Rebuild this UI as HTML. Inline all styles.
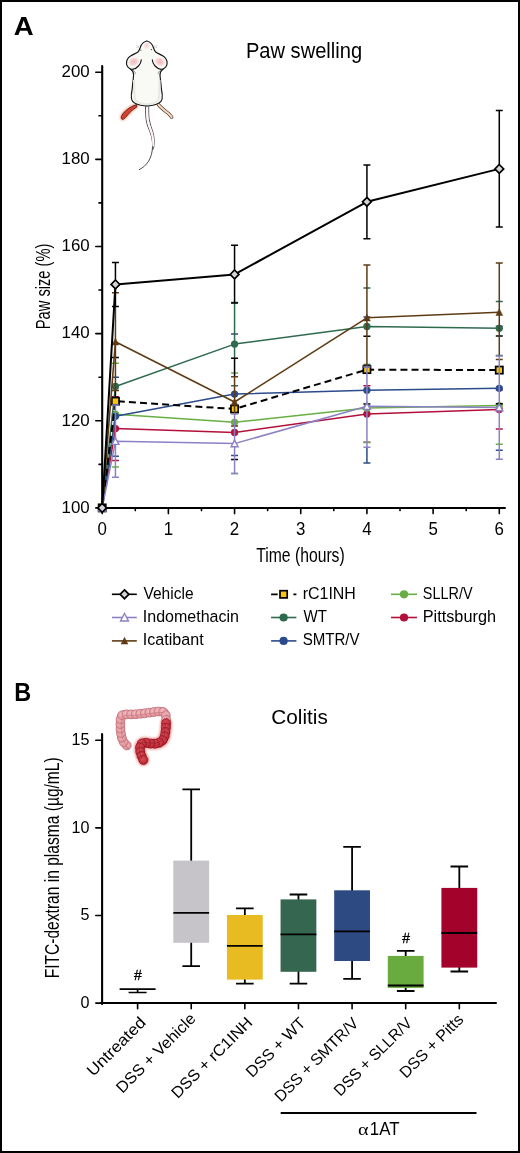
<!DOCTYPE html>
<html><head><meta charset="utf-8"><style>html,body{margin:0;padding:0;background:#fff;}body{width:520px;height:1153px;overflow:hidden;}</style></head>
<body>
<svg width="520" height="1153" viewBox="0 0 520 1153" style="display:block;will-change:transform">
<rect x="0" y="0" width="520" height="1153" fill="#fff"/>
<text transform="translate(13.77,35.00) scale(1.0772,1)" font-family='"Liberation Sans", sans-serif' font-size="25.60" font-weight="bold">A</text>
<text transform="translate(14.26,701.10) scale(0.9229,1)" font-family='"Liberation Sans", sans-serif' font-size="25.40" font-weight="bold">B</text>
<text transform="translate(245.89,57.80) scale(0.9493,1)" font-family='"Liberation Sans", sans-serif' font-size="21.20" font-weight="normal">Paw swelling</text>
<g stroke="#000" fill="none">
<path d="M102.2,66 V508.9" stroke-width="2.1" stroke-linecap="round"/>
<path d="M101.2,507.9 H505" stroke-width="2" stroke-linecap="round"/>
<path d="M95.8,507.90 H102" stroke-width="1.6" stroke-linecap="round"/>
<path d="M99.0,464.33 H102" stroke-width="1.6" stroke-linecap="round"/>
<path d="M95.8,420.76 H102" stroke-width="1.6" stroke-linecap="round"/>
<path d="M99.0,377.19 H102" stroke-width="1.6" stroke-linecap="round"/>
<path d="M95.8,333.62 H102" stroke-width="1.6" stroke-linecap="round"/>
<path d="M99.0,290.05 H102" stroke-width="1.6" stroke-linecap="round"/>
<path d="M95.8,246.48 H102" stroke-width="1.6" stroke-linecap="round"/>
<path d="M99.0,202.91 H102" stroke-width="1.6" stroke-linecap="round"/>
<path d="M95.8,159.34 H102" stroke-width="1.6" stroke-linecap="round"/>
<path d="M99.0,115.77 H102" stroke-width="1.6" stroke-linecap="round"/>
<path d="M95.8,72.20 H102" stroke-width="1.6" stroke-linecap="round"/>
<path d="M102.20,508 V513.6" stroke-width="1.6" stroke-linecap="round"/>
<path d="M135.29,508 V510.6" stroke-width="1.6" stroke-linecap="round"/>
<path d="M168.38,508 V513.6" stroke-width="1.6" stroke-linecap="round"/>
<path d="M201.47,508 V510.6" stroke-width="1.6" stroke-linecap="round"/>
<path d="M234.56,508 V513.6" stroke-width="1.6" stroke-linecap="round"/>
<path d="M267.65,508 V510.6" stroke-width="1.6" stroke-linecap="round"/>
<path d="M300.74,508 V513.6" stroke-width="1.6" stroke-linecap="round"/>
<path d="M333.83,508 V510.6" stroke-width="1.6" stroke-linecap="round"/>
<path d="M366.92,508 V513.6" stroke-width="1.6" stroke-linecap="round"/>
<path d="M400.01,508 V510.6" stroke-width="1.6" stroke-linecap="round"/>
<path d="M433.10,508 V513.6" stroke-width="1.6" stroke-linecap="round"/>
<path d="M466.19,508 V510.6" stroke-width="1.6" stroke-linecap="round"/>
<path d="M499.28,508 V513.6" stroke-width="1.6" stroke-linecap="round"/>
</g>
<text transform="translate(89.75,512.75)" text-anchor="end" font-family='"Liberation Sans", sans-serif' font-size="16.9">100</text>
<text transform="translate(89.75,425.61)" text-anchor="end" font-family='"Liberation Sans", sans-serif' font-size="16.9">120</text>
<text transform="translate(89.75,338.47)" text-anchor="end" font-family='"Liberation Sans", sans-serif' font-size="16.9">140</text>
<text transform="translate(89.75,251.33)" text-anchor="end" font-family='"Liberation Sans", sans-serif' font-size="16.9">160</text>
<text transform="translate(89.75,164.19)" text-anchor="end" font-family='"Liberation Sans", sans-serif' font-size="16.9">180</text>
<text transform="translate(89.75,77.05)" text-anchor="end" font-family='"Liberation Sans", sans-serif' font-size="16.9">200</text>
<text transform="translate(102.20,534.5) scale(0.964,1)" text-anchor="middle" font-family='"Liberation Sans", sans-serif' font-size="17.5">0</text>
<text transform="translate(168.38,534.5) scale(0.964,1)" text-anchor="middle" font-family='"Liberation Sans", sans-serif' font-size="17.5">1</text>
<text transform="translate(234.56,534.5) scale(0.964,1)" text-anchor="middle" font-family='"Liberation Sans", sans-serif' font-size="17.5">2</text>
<text transform="translate(300.74,534.5) scale(0.964,1)" text-anchor="middle" font-family='"Liberation Sans", sans-serif' font-size="17.5">3</text>
<text transform="translate(366.92,534.5) scale(0.964,1)" text-anchor="middle" font-family='"Liberation Sans", sans-serif' font-size="17.5">4</text>
<text transform="translate(433.10,534.5) scale(0.964,1)" text-anchor="middle" font-family='"Liberation Sans", sans-serif' font-size="17.5">5</text>
<text transform="translate(499.28,534.5) scale(0.964,1)" text-anchor="middle" font-family='"Liberation Sans", sans-serif' font-size="17.5">6</text>
<text transform="translate(256.19,561.75) scale(0.7490,1)" font-family='"Liberation Sans", sans-serif' font-size="21.00" font-weight="normal">Time (hours)</text>
<text transform="translate(49.90,329.17) rotate(-90) scale(0.7194,1)" font-family='"Liberation Sans", sans-serif' font-size="20.40">Paw size (%)</text>
<g><path d="M111.94,396.80 H118.94 M111.94,460.50 H118.94" stroke="#b1113a" stroke-width="1.5" fill="none"/><path d="M363.42,385.70 H370.42 M363.42,442.30 H370.42" stroke="#b1113a" stroke-width="1.5" fill="none"/><path d="M495.78,390.00 H502.78 M495.78,429.00 H502.78" stroke="#b1113a" stroke-width="1.5" fill="none"/><polyline points="102.20,507.90 115.44,428.60 234.56,432.40 366.92,413.90 499.28,409.50" stroke="#b1113a" stroke-width="1.5" fill="none" stroke-linejoin="round"/><circle cx="102.20" cy="507.90" r="3.65" fill="#b1113a"/><circle cx="115.44" cy="428.60" r="3.65" fill="#b1113a"/><circle cx="234.56" cy="432.40" r="3.65" fill="#b1113a"/><circle cx="366.92" cy="413.90" r="3.65" fill="#b1113a"/><circle cx="499.28" cy="409.50" r="3.65" fill="#b1113a"/></g>
<g><path d="M111.94,363.20 H118.94 M111.94,467.10 H118.94" stroke="#69ae43" stroke-width="1.5" fill="none"/><path d="M231.06,373.10 H238.06 M231.06,473.50 H238.06" stroke="#69ae43" stroke-width="1.5" fill="none"/><path d="M363.42,372.00 H370.42 M363.42,442.60 H370.42" stroke="#69ae43" stroke-width="1.5" fill="none"/><path d="M495.78,367.70 H502.78 M495.78,444.30 H502.78" stroke="#69ae43" stroke-width="1.5" fill="none"/><polyline points="102.20,507.90 115.44,414.20 234.56,422.30 366.92,408.00 499.28,405.60" stroke="#69ae43" stroke-width="1.5" fill="none" stroke-linejoin="round"/><circle cx="102.20" cy="507.90" r="3.65" fill="#69ae43"/><circle cx="115.44" cy="414.20" r="3.65" fill="#69ae43"/><circle cx="234.56" cy="422.30" r="3.65" fill="#69ae43"/><circle cx="366.92" cy="408.00" r="3.65" fill="#69ae43"/><circle cx="499.28" cy="405.60" r="3.65" fill="#69ae43"/></g>
<g><path d="M111.94,377.30 H118.94 M111.94,456.30 H118.94" stroke="#2b4b8a" stroke-width="1.5" fill="none"/><path d="M231.06,334.00 H238.06 M231.06,455.50 H238.06" stroke="#2b4b8a" stroke-width="1.5" fill="none"/><path d="M366.92,446.90 V463.00 M363.42,317.00 H370.42 M363.42,463.00 H370.42" stroke="#2b4b8a" stroke-width="1.5" fill="none"/><path d="M495.78,326.30 H502.78 M495.78,450.30 H502.78" stroke="#2b4b8a" stroke-width="1.5" fill="none"/><polyline points="102.20,507.90 115.44,416.30 234.56,394.10 366.92,390.20 499.28,388.30" stroke="#2b4b8a" stroke-width="1.5" fill="none" stroke-linejoin="round"/><circle cx="102.20" cy="507.90" r="3.65" fill="#2b4b8a"/><circle cx="115.44" cy="416.30" r="3.65" fill="#2b4b8a"/><circle cx="234.56" cy="394.10" r="3.65" fill="#2b4b8a"/><circle cx="366.92" cy="390.20" r="3.65" fill="#2b4b8a"/><circle cx="499.28" cy="388.30" r="3.65" fill="#2b4b8a"/></g>
<g><path d="M234.56,302.70 V358.60 M231.06,302.40 H238.06 M231.06,385.80 H238.06" stroke="#2f6a4f" stroke-width="1.5" fill="none"/><path d="M363.42,288.10 H370.42 M363.42,364.60 H370.42" stroke="#2f6a4f" stroke-width="1.5" fill="none"/><path d="M495.78,301.40 H502.78 M495.78,355.50 H502.78" stroke="#2f6a4f" stroke-width="1.5" fill="none"/><polyline points="102.20,507.90 115.44,386.50 234.56,344.10 366.92,326.50 499.28,328.30" stroke="#2f6a4f" stroke-width="1.5" fill="none" stroke-linejoin="round"/><circle cx="102.20" cy="507.90" r="3.65" fill="#2f6a4f"/><circle cx="115.44" cy="386.50" r="3.65" fill="#2f6a4f"/><circle cx="234.56" cy="344.10" r="3.65" fill="#2f6a4f"/><circle cx="366.92" cy="326.50" r="3.65" fill="#2f6a4f"/><circle cx="499.28" cy="328.30" r="3.65" fill="#2f6a4f"/></g>
<g><path d="M115.44,390.10 V405.30 M111.94,357.40 H118.94 M111.94,443.60 H118.94" stroke="#000000" stroke-width="1.5" fill="none"/><path d="M234.56,358.30 V377.10 M231.06,358.30 H238.06 M231.06,459.50 H238.06" stroke="#000000" stroke-width="1.5" fill="none"/><path d="M366.92,366.70 V367.30 M363.42,336.30 H370.42 M363.42,404.00 H370.42" stroke="#000000" stroke-width="1.5" fill="none"/><path d="M495.78,336.00 H502.78 M495.78,403.80 H502.78" stroke="#000000" stroke-width="1.5" fill="none"/><polyline points="102.20,507.90 115.44,401.20 234.56,409.00 366.92,369.60 499.28,370.10" stroke="#000000" stroke-width="2.0" fill="none" stroke-linejoin="round" stroke-dasharray="7,4.1" stroke-dashoffset="1.08"/><rect x="98.60" y="504.30" width="7.20" height="7.20" fill="#f8c612" stroke="#000" stroke-width="1.7"/><rect x="111.84" y="397.60" width="7.20" height="7.20" fill="#f8c612" stroke="#000" stroke-width="1.7"/><rect x="230.96" y="405.40" width="7.20" height="7.20" fill="#f8c612" stroke="#000" stroke-width="1.7"/><rect x="363.32" y="366.00" width="7.20" height="7.20" fill="#f8c612" stroke="#000" stroke-width="1.7"/><rect x="495.68" y="366.50" width="7.20" height="7.20" fill="#f8c612" stroke="#000" stroke-width="1.7"/></g>
<g><path d="M115.44,306.30 V390.40 M111.94,292.80 H118.94 M111.94,390.40 H118.94" stroke="#5e3b14" stroke-width="1.5" fill="none"/><path d="M234.56,376.80 V414.30 M231.06,376.80 H238.06 M231.06,425.90 H238.06" stroke="#5e3b14" stroke-width="1.5" fill="none"/><path d="M366.92,265.10 V367.00 M363.42,265.10 H370.42 M363.42,367.00 H370.42" stroke="#5e3b14" stroke-width="1.5" fill="none"/><path d="M499.28,263.00 V356.30 M495.78,263.00 H502.78 M495.78,359.40 H502.78" stroke="#5e3b14" stroke-width="1.5" fill="none"/><polyline points="102.20,507.90 115.44,341.80 234.56,402.00 366.92,317.80 499.28,312.30" stroke="#5e3b14" stroke-width="1.6" fill="none" stroke-linejoin="round"/><path d="M102.20,504.30 L105.60,511.10 L98.80,511.10Z" fill="#5e3b14" stroke="#5e3b14" stroke-width="0.5" stroke-linejoin="round"/><path d="M115.44,338.20 L118.84,345.00 L112.04,345.00Z" fill="#5e3b14" stroke="#5e3b14" stroke-width="0.5" stroke-linejoin="round"/><path d="M234.56,398.40 L237.96,405.20 L231.16,405.20Z" fill="#5e3b14" stroke="#5e3b14" stroke-width="0.5" stroke-linejoin="round"/><path d="M366.92,314.20 L370.32,321.00 L363.52,321.00Z" fill="#5e3b14" stroke="#5e3b14" stroke-width="0.5" stroke-linejoin="round"/><path d="M499.28,308.70 L502.68,315.50 L495.88,315.50Z" fill="#5e3b14" stroke="#5e3b14" stroke-width="0.5" stroke-linejoin="round"/></g>
<g><path d="M115.44,405.00 V477.20 M111.94,405.00 H118.94 M111.94,477.20 H118.94" stroke="#8a82c4" stroke-width="1.5" fill="none"/><path d="M234.56,414.00 V473.50 M231.06,414.00 H238.06 M231.06,473.50 H238.06" stroke="#8a82c4" stroke-width="1.5" fill="none"/><path d="M366.92,367.00 V447.20 M363.42,367.00 H370.42 M363.42,447.20 H370.42" stroke="#8a82c4" stroke-width="1.5" fill="none"/><path d="M499.28,356.00 V459.20 M495.78,356.00 H502.78 M495.78,459.20 H502.78" stroke="#8a82c4" stroke-width="1.5" fill="none"/><polyline points="102.20,507.90 115.44,441.30 234.56,443.60 366.92,406.30 499.28,407.60" stroke="#8a82c4" stroke-width="1.5" fill="none" stroke-linejoin="round"/><path d="M102.20,504.40 L105.70,511.00 L98.70,511.00Z" fill="#ffffff" stroke="#8a82c4" stroke-width="1.4" stroke-linejoin="miter"/><path d="M115.44,437.80 L118.94,444.40 L111.94,444.40Z" fill="#ffffff" stroke="#8a82c4" stroke-width="1.4" stroke-linejoin="miter"/><path d="M234.56,440.10 L238.06,446.70 L231.06,446.70Z" fill="#ffffff" stroke="#8a82c4" stroke-width="1.4" stroke-linejoin="miter"/><path d="M366.92,402.80 L370.42,409.40 L363.42,409.40Z" fill="#ffffff" stroke="#8a82c4" stroke-width="1.4" stroke-linejoin="miter"/><path d="M499.28,404.10 L502.78,410.70 L495.78,410.70Z" fill="#ffffff" stroke="#8a82c4" stroke-width="1.4" stroke-linejoin="miter"/></g>
<g><path d="M115.44,262.40 V306.60 M111.94,262.40 H118.94 M111.94,306.60 H118.94" stroke="#000000" stroke-width="1.5" fill="none"/><path d="M234.56,245.30 V303.00 M231.06,245.30 H238.06 M231.06,303.00 H238.06" stroke="#000000" stroke-width="1.5" fill="none"/><path d="M366.92,165.00 V238.70 M363.42,165.00 H370.42 M363.42,238.70 H370.42" stroke="#000000" stroke-width="1.5" fill="none"/><path d="M499.28,110.40 V227.00 M495.78,110.40 H502.78 M495.78,227.00 H502.78" stroke="#000000" stroke-width="1.5" fill="none"/><polyline points="102.20,507.90 115.44,284.40 234.56,274.40 366.92,201.80 499.28,168.90" stroke="#000000" stroke-width="2.0" fill="none" stroke-linejoin="round"/><path d="M102.20,503.50 L106.60,507.90 L102.20,512.30 L97.80,507.90Z" fill="#d5d4da" stroke="#000" stroke-width="1.7" stroke-linejoin="miter"/><path d="M115.44,280.00 L119.84,284.40 L115.44,288.80 L111.04,284.40Z" fill="#d5d4da" stroke="#000" stroke-width="1.7" stroke-linejoin="miter"/><path d="M234.56,270.00 L238.96,274.40 L234.56,278.80 L230.16,274.40Z" fill="#d5d4da" stroke="#000" stroke-width="1.7" stroke-linejoin="miter"/><path d="M366.92,197.40 L371.32,201.80 L366.92,206.20 L362.52,201.80Z" fill="#d5d4da" stroke="#000" stroke-width="1.7" stroke-linejoin="miter"/><path d="M499.28,164.50 L503.68,168.90 L499.28,173.30 L494.88,168.90Z" fill="#d5d4da" stroke="#000" stroke-width="1.7" stroke-linejoin="miter"/></g>
<path d="M111.9,594.3 H136.8" stroke="#000" stroke-width="1.6"/>
<path d="M124.50,589.90 L128.90,594.30 L124.50,598.70 L120.10,594.30Z" fill="#d5d4da" stroke="#000" stroke-width="1.7" stroke-linejoin="miter"/>
<text transform="translate(143.44,598.60) scale(0.9969,1)" font-family='"Liberation Sans", sans-serif' font-size="15.60" font-weight="normal">Vehicle</text>
<path d="M111.9,617.5 H136.8" stroke="#8a82c4" stroke-width="1.6"/>
<path d="M124.50,613.54 L128.46,621.00 L120.55,621.00Z" fill="#fff" stroke="#8a82c4" stroke-width="1.4" stroke-linejoin="miter"/>
<text transform="translate(142.76,622.00) scale(1.0289,1)" font-family='"Liberation Sans", sans-serif' font-size="15.60" font-weight="normal">Indomethacin</text>
<path d="M111.9,640.9 H136.8" stroke="#5e3b14" stroke-width="1.6"/>
<path d="M124.50,637.30 L127.90,644.10 L121.10,644.10Z" fill="#5e3b14" stroke="#5e3b14" stroke-width="0.5" stroke-linejoin="round"/>
<text transform="translate(142.75,645.10) scale(1.0330,1)" font-family='"Liberation Sans", sans-serif' font-size="15.60" font-weight="normal">Icatibant</text>
<path d="M271.1,594.3 H277.7 M293.4,594.3 H296.4" stroke="#000" stroke-width="1.7"/>
<rect x="280.00" y="590.70" width="7.20" height="7.20" fill="#f8c612" stroke="#000" stroke-width="1.7"/>
<text transform="translate(302.68,598.60) scale(1.0240,1)" font-family='"Liberation Sans", sans-serif' font-size="15.60" font-weight="normal">rC1INH</text>
<path d="M271.1,617.5 H296.4" stroke="#2f6a4f" stroke-width="1.6"/>
<circle cx="283.60" cy="617.50" r="4.12" fill="#2f6a4f"/>
<text transform="translate(303.40,622.00) scale(0.9678,1)" font-family='"Liberation Sans", sans-serif' font-size="15.60" font-weight="normal">WT</text>
<path d="M271.1,640.9 H296.4" stroke="#2b4b8a" stroke-width="1.6"/>
<circle cx="283.60" cy="640.90" r="4.12" fill="#2b4b8a"/>
<text transform="translate(302.65,645.10) scale(0.9667,1)" font-family='"Liberation Sans", sans-serif' font-size="15.60" font-weight="normal">SMTR/V</text>
<path d="M391,594.3 H417" stroke="#69ae43" stroke-width="1.6"/>
<circle cx="404.00" cy="594.30" r="4.12" fill="#69ae43"/>
<text transform="translate(422.78,598.60) scale(0.9266,1)" font-family='"Liberation Sans", sans-serif' font-size="15.60" font-weight="normal">SLLR/V</text>
<path d="M391,617.5 H417" stroke="#b1113a" stroke-width="1.6"/>
<circle cx="404.00" cy="617.50" r="4.12" fill="#b1113a"/>
<text transform="translate(422.70,622.00) scale(1.0439,1)" font-family='"Liberation Sans", sans-serif' font-size="15.60" font-weight="normal">Pittsburgh</text>
<text transform="translate(271.36,724.20) scale(0.9885,1)" font-family='"Liberation Sans", sans-serif' font-size="21.00" font-weight="normal">Colitis</text>
<g stroke="#000" fill="none">
<path d="M102.1,734 V1004.1" stroke-width="2.1" stroke-linecap="round"/>
<path d="M101.1,1003.1 H496" stroke-width="2" stroke-linecap="round"/>
<path d="M95.8,1003.10 H102" stroke-width="1.6" stroke-linecap="round"/>
<path d="M95.8,915.47 H102" stroke-width="1.6" stroke-linecap="round"/>
<path d="M95.8,827.83 H102" stroke-width="1.6" stroke-linecap="round"/>
<path d="M95.8,740.19 H102" stroke-width="1.6" stroke-linecap="round"/>
<path d="M137.60,1003.5 V1008.8" stroke-width="1.6" stroke-linecap="round"/>
<path d="M191.22,1003.5 V1008.8" stroke-width="1.6" stroke-linecap="round"/>
<path d="M244.84,1003.5 V1008.8" stroke-width="1.6" stroke-linecap="round"/>
<path d="M298.46,1003.5 V1008.8" stroke-width="1.6" stroke-linecap="round"/>
<path d="M352.08,1003.5 V1008.8" stroke-width="1.6" stroke-linecap="round"/>
<path d="M405.70,1003.5 V1008.8" stroke-width="1.6" stroke-linecap="round"/>
<path d="M459.32,1003.5 V1008.8" stroke-width="1.6" stroke-linecap="round"/>
</g>
<text transform="translate(89.45,1008.00) scale(0.95,1)" text-anchor="end" font-family='"Liberation Sans", sans-serif' font-size="17">0</text>
<text transform="translate(89.45,920.37) scale(0.95,1)" text-anchor="end" font-family='"Liberation Sans", sans-serif' font-size="17">5</text>
<text transform="translate(89.45,832.73) scale(0.95,1)" text-anchor="end" font-family='"Liberation Sans", sans-serif' font-size="17">10</text>
<text transform="translate(89.45,745.09) scale(0.95,1)" text-anchor="end" font-family='"Liberation Sans", sans-serif' font-size="17">15</text>
<text transform="translate(59.10,978.35) rotate(-90) scale(0.7641,1)" font-family='"Liberation Sans", sans-serif' font-size="20.40">FITC-dextran in plasma (µg/mL)</text>
<path d="M191.22,789.3 V966.1 M182.42,789.3 H200.02 M182.42,966.1 H200.02" stroke="#000" stroke-width="1.8" fill="none"/><rect x="173.32" y="860.6" width="35.8" height="82.2" fill="#c6c4c9"/><path d="M173.32,912.9 H209.12" stroke="#000" stroke-width="1.8"/><path d="M244.84,908.4 V983.7 M236.04,908.4 H253.64 M236.04,983.7 H253.64" stroke="#000" stroke-width="1.8" fill="none"/><rect x="226.94" y="915.0" width="35.8" height="64.6" fill="#e8bb22"/><path d="M226.94,945.9 H262.74" stroke="#000" stroke-width="1.8"/><path d="M298.46,894.5 V983.6 M289.66,894.5 H307.26 M289.66,983.6 H307.26" stroke="#000" stroke-width="1.8" fill="none"/><rect x="280.56" y="899.4" width="35.8" height="72.4" fill="#356650"/><path d="M280.56,934.4 H316.36" stroke="#000" stroke-width="1.8"/><path d="M352.08,846.9 V978.8 M343.28,846.9 H360.88 M343.28,978.8 H360.88" stroke="#000" stroke-width="1.8" fill="none"/><rect x="334.18" y="890.3" width="35.8" height="70.7" fill="#2d4a82"/><path d="M334.18,931.3 H369.98" stroke="#000" stroke-width="1.8"/><path d="M405.70,950.9 V991.0 M396.90,950.9 H414.50 M396.90,991.0 H414.50" stroke="#000" stroke-width="1.8" fill="none"/><rect x="387.80" y="955.9" width="35.8" height="32.0" fill="#6aab40"/><path d="M387.80,985.5 H423.60" stroke="#000" stroke-width="1.8"/><path d="M459.32,866.5 V971.5 M450.52,866.5 H468.12 M450.52,971.5 H468.12" stroke="#000" stroke-width="1.8" fill="none"/><rect x="441.42" y="887.9" width="35.8" height="79.7" fill="#a3022b"/><path d="M441.42,933.0 H477.22" stroke="#000" stroke-width="1.8"/>
<path d="M119.60,989.1 H155.60 M128.60,992.5 H146.60 M137.60,989.1 V992.5" stroke="#000" stroke-width="1.7" fill="none"/>
<text transform="translate(134.10,979.70) scale(0.9091,1)" font-family='"Liberation Sans", sans-serif' font-size="15.40" font-weight="normal" stroke="#000" stroke-width="0.35">#</text>
<text transform="translate(402.20,942.80) scale(0.9091,1)" font-family='"Liberation Sans", sans-serif' font-size="15.40" font-weight="normal" stroke="#000" stroke-width="0.35">#</text>
<text transform="translate(93.28,1076.98) rotate(-45) scale(1.0779,1)" font-family='"Liberation Sans", sans-serif' font-size="16.0">Untreated</text>
<text transform="translate(122.46,1093.91) rotate(-45) scale(1.0228,1)" font-family='"Liberation Sans", sans-serif' font-size="16.0">DSS + Vehicle</text>
<text transform="translate(177.76,1099.14) rotate(-45) scale(1.0243,1)" font-family='"Liberation Sans", sans-serif' font-size="16.0">DSS + rC1INH</text>
<text transform="translate(252.30,1078.34) rotate(-45) scale(1.0108,1)" font-family='"Liberation Sans", sans-serif' font-size="16.0">DSS + WT</text>
<text transform="translate(280.88,1102.65) rotate(-45) scale(0.9960,1)" font-family='"Liberation Sans", sans-serif' font-size="16.0">DSS + SMTR/V</text>
<text transform="translate(340.23,1096.90) rotate(-45) scale(0.9699,1)" font-family='"Liberation Sans", sans-serif' font-size="16.0">DSS + SLLR/V</text>
<text transform="translate(405.89,1079.04) rotate(-45) scale(1.0072,1)" font-family='"Liberation Sans", sans-serif' font-size="16.0">DSS + Pitts</text>
<path d="M280.7,1113 H476.5" stroke="#000" stroke-width="1.8"/>
<text transform="translate(357.89,1134.6) scale(1.14,1)" font-family="Liberation Serif, serif" font-size="17.7">α</text>
<text transform="translate(369.85,1134.60) scale(0.9530,1)" font-family='"Liberation Sans", sans-serif' font-size="17.70" font-weight="normal">1AT</text>
<g id="mouse">
<defs>
<radialGradient id="earP" cx="0.5" cy="0.5" r="0.5"><stop offset="0" stop-color="#f0b9b6"/><stop offset="0.6" stop-color="#f5d3d0"/><stop offset="1" stop-color="#fdf3f2"/></radialGradient>
<radialGradient id="noseP" cx="0.5" cy="0.45" r="0.55"><stop offset="0" stop-color="#f5cfcd"/><stop offset="1" stop-color="#fff8f8"/></radialGradient>
<filter id="glow" x="-50%" y="-50%" width="200%" height="200%"><feGaussianBlur stdDeviation="1.0"/></filter>

</defs>
<!-- tail -->
<path d="M145.6,106.6 C145.5,112 145.6,117 146.4,121 C147.2,125 148.8,129 150.4,133 C151.8,137 152.6,141 152.6,146 C152.4,152 151.2,157 148.4,161.5 C146,165 143,167.8 139.4,169.6" fill="none" stroke="#3a3a3a" stroke-width="0.9" stroke-linecap="round"/>
<path d="M148.7,106.6 C148.6,111 148.6,116 149.3,120 C150.1,124.5 151.6,128 153,132.5 C154,136.5 154.6,141 154.2,145 C153.9,147 153.4,148.5 152.8,149.5" fill="none" stroke="#3a3a3a" stroke-width="0.9" stroke-linecap="round"/>
<path d="M147.2,107 C147.1,112 147.2,117 147.9,120.8 C148.7,125 150.2,128.8 151.7,132.8 C152.9,136.8 153.6,141 153.4,145.5" fill="none" stroke="#fdf5f5" stroke-width="2.1" stroke-linecap="round"/>
<!-- red swollen leg -->
<path d="M136.4,104.6 C131.5,106.2 126.2,109.6 123,113.6 C121.3,115.8 120.6,118.2 121.9,119.2 C123.2,119.9 125,118.2 126.8,116 C129.5,112.6 132.8,109.4 136.8,107 Z" fill="#f2a088" stroke="#f2a088" stroke-width="2.6" filter="url(#glow)" opacity="0.85"/>
<path d="M136.4,104.6 C131.5,106.2 126.2,109.6 123,113.6 C121.3,115.8 120.6,118.2 121.9,119.2 C123.2,119.9 125,118.2 126.8,116 C129.5,112.6 132.8,109.4 136.8,107 Z" fill="#d8412f" stroke="#3d1610" stroke-width="0.75" stroke-linejoin="round"/>
<!-- right leg -->
<path d="M158.2,104.4 C161.5,108.5 166,111.5 169.2,114.2 C170.5,115.4 171.3,116.4 171.7,117.3" fill="none" stroke="#3e3630" stroke-width="3.4" stroke-linecap="round"/>
<path d="M158.2,104.4 C161.5,108.5 166,111.5 169.2,114.2 C170.5,115.4 171.3,116.4 171.7,117.3" fill="none" stroke="#fad7b6" stroke-width="2.1" stroke-linecap="round"/>
<!-- body halves -->
<g>
<path d="M146.8,41.0 C144.8,41.4 142.2,43.2 140.9,45.8 C140.0,48  139.4,50.3 138,52 C136.5,53.3 133,54.3 130.5,56 C128,57.6 126.6,60 126.5,63 C126.5,65.5 128,67.8 130.5,69 C132.5,70.5 133.8,72 133.6,75 C133.2,80 132.4,85 132.2,89 C131.5,92 130.9,95.5 131.5,99.2 C132.5,102.5 136,104.4 140.6,105.2 C143,105.6 145,105.8 146.9,105.8 L146.9,41.2 Z" fill="#f9f9f6"/>
<ellipse cx="133.7" cy="61.8" rx="5.6" ry="4.6" transform="rotate(-25 133.7 61.8)" fill="url(#earP)"/>
<path d="M146.8,41.0 C144.8,41.4 142.2,43.2 140.9,45.8 C140.0,48 139.4,50.3 138,52 C136.5,53.3 133,54.3 130.5,56 C128,57.6 126.6,60 126.5,63 C126.5,65.5 128,67.8 130.5,69 C133,69.8 136.5,68.2 138.5,66 C140.3,64 141.2,62 141.3,59.8" fill="none" stroke="#161616" stroke-width="1.15" stroke-linecap="round" stroke-linejoin="round"/>
<path d="M130.5,69 C132.5,70.5 133.8,72 133.6,75 C133.2,80 132.4,85 132.2,89 C131.5,92 130.9,95.5 131.5,99.2 C132.5,102.5 136,104.4 140.6,105.2 C143,105.6 145,105.8 146.9,105.8" fill="none" stroke="#161616" stroke-width="1.15" stroke-linecap="round" stroke-linejoin="round"/>
<path d="M134.0,80 C134.6,87 133.6,94 135.2,100 C137.5,103 141,104 146.9,104.4" fill="none" stroke="#e9e9e3" stroke-width="2.0"/><path d="M131.6,69.6 C133.4,70.2 135.2,71.6 135.6,73.8" fill="none" stroke="#555" stroke-width="0.6"/>
<path d="M139.5,46.2 L136.2,45.6 M139.5,47.0 L136.4,47.6" stroke="#b8b8b8" stroke-width="0.6"/>
</g>
<g transform="translate(293.6,0) scale(-1,1)">
<path d="M146.8,41.0 C144.8,41.4 142.2,43.2 140.9,45.8 C140.0,48  139.4,50.3 138,52 C136.5,53.3 133,54.3 130.5,56 C128,57.6 126.6,60 126.5,63 C126.5,65.5 128,67.8 130.5,69 C132.5,70.5 133.8,72 133.6,75 C133.2,80 132.4,85 132.2,89 C131.5,92 130.9,95.5 131.5,99.2 C132.5,102.5 136,104.4 140.6,105.2 C143,105.6 145,105.8 146.9,105.8 L146.9,41.2 Z" fill="#f9f9f6"/>
<ellipse cx="133.7" cy="61.8" rx="5.6" ry="4.6" transform="rotate(-25 133.7 61.8)" fill="url(#earP)"/>
<path d="M146.8,41.0 C144.8,41.4 142.2,43.2 140.9,45.8 C140.0,48 139.4,50.3 138,52 C136.5,53.3 133,54.3 130.5,56 C128,57.6 126.6,60 126.5,63 C126.5,65.5 128,67.8 130.5,69 C133,69.8 136.5,68.2 138.5,66 C140.3,64 141.2,62 141.3,59.8" fill="none" stroke="#161616" stroke-width="1.15" stroke-linecap="round" stroke-linejoin="round"/>
<path d="M130.5,69 C132.5,70.5 133.8,72 133.6,75 C133.2,80 132.4,85 132.2,89 C131.5,92 130.9,95.5 131.5,99.2 C132.5,102.5 136,104.4 140.6,105.2 C143,105.6 145,105.8 146.9,105.8" fill="none" stroke="#161616" stroke-width="1.15" stroke-linecap="round" stroke-linejoin="round"/>
<path d="M134.0,80 C134.6,87 133.6,94 135.2,100 C137.5,103 141,104 146.9,104.4" fill="none" stroke="#e9e9e3" stroke-width="2.0"/><path d="M131.6,69.6 C133.4,70.2 135.2,71.6 135.6,73.8" fill="none" stroke="#555" stroke-width="0.6"/>
<path d="M139.5,46.2 L136.2,45.6 M139.5,47.0 L136.4,47.6" stroke="#b8b8b8" stroke-width="0.6"/>
</g>
<!-- nose -->
<ellipse cx="146.8" cy="46.0" rx="3.4" ry="3.8" fill="url(#noseP)"/>
<!-- eyes -->
<circle cx="140.9" cy="50.0" r="0.6" fill="#222"/>
<circle cx="151.3" cy="49.6" r="0.6" fill="#222"/>
</g>

<g id="colon">
<defs><filter id="cglow" x="-30%" y="-30%" width="160%" height="160%"><feGaussianBlur stdDeviation="1.3"/></filter>
<radialGradient id="bl" cx="0.45" cy="0.4" r="0.6"><stop offset="0" stop-color="#f3c0c4"/><stop offset="1" stop-color="#df8a93"/></radialGradient>
<radialGradient id="bd" cx="0.45" cy="0.4" r="0.6"><stop offset="0" stop-color="#d9505a"/><stop offset="1" stop-color="#b31f2d"/></radialGradient></defs>
<path d="M166.10,723.20 L166.11,723.35 L166.12,723.51 L166.13,723.73 L166.14,724.02 L166.13,724.44 L166.10,725.00 L166.05,725.76 L166.00,726.69 L165.93,727.74 L165.84,728.84 L165.73,729.95 L165.60,731.00 L165.46,732.02 L165.31,733.06 L165.14,734.10 L164.94,735.12 L164.70,736.09 L164.40,737.00 L164.05,737.85 L163.65,738.67 L163.21,739.45 L162.73,740.17 L162.19,740.82 L161.60,741.40 L160.94,741.89 L160.21,742.31 L159.44,742.66 L158.63,742.95 L157.81,743.19 L157.00,743.40 L156.19,743.56 L155.36,743.66 L154.53,743.72 L153.68,743.74 L152.84,743.73 L152.00,743.70 L151.15,743.63 L150.29,743.52 L149.42,743.38 L148.58,743.23 L147.76,743.09 L147.00,743.00 L146.28,742.92 L145.60,742.83 L144.95,742.76 L144.33,742.73 L143.75,742.77 L143.20,742.90 L142.67,743.12 L142.17,743.43 L141.70,743.79 L141.27,744.22 L140.90,744.69 L140.60,745.20 L140.37,745.77 L140.21,746.41 L140.10,747.09 L140.04,747.80 L140.01,748.51 L140.00,749.20 L140.02,749.87 L140.08,750.54 L140.17,751.21 L140.30,751.88 L140.44,752.54 L140.60,753.20 L140.79,753.85 L141.01,754.51 L141.25,755.16 L141.50,755.80 L141.76,756.42 L142.00,757.00 L142.25,757.58 L142.52,758.17 L142.79,758.74 L143.04,759.25 L143.25,759.68 L143.40,760.00" fill="none" stroke="#eb9088" stroke-width="12" stroke-linecap="round" stroke-linejoin="round" filter="url(#cglow)" opacity="0.8"/>
<path d="M126.80,745.40 L126.44,745.05 L125.93,744.58 L125.33,744.01 L124.70,743.38 L124.10,742.70 L123.60,742.00 L123.18,741.27 L122.80,740.49 L122.46,739.66 L122.14,738.80 L121.86,737.91 L121.60,737.00 L121.38,736.06 L121.20,735.07 L121.04,734.06 L120.91,733.04 L120.80,732.01 L120.70,731.00 L120.61,730.00 L120.54,729.00 L120.48,728.00 L120.44,727.00 L120.41,726.00 L120.40,725.00 L120.39,723.97 L120.39,722.91 L120.40,721.84 L120.43,720.81 L120.50,719.86 L120.60,719.00 L120.73,718.24 L120.89,717.56 L121.07,716.94 L121.29,716.40 L121.57,715.92 L121.90,715.50 L122.29,715.17 L122.73,714.91 L123.22,714.73 L123.76,714.60 L124.35,714.49 L125.00,714.40 L125.71,714.34 L126.49,714.33 L127.32,714.34 L128.19,714.37 L129.09,714.40 L130.00,714.40 L130.94,714.38 L131.93,714.36 L132.94,714.34 L133.96,714.30 L134.99,714.26 L136.00,714.20 L137.00,714.13 L138.00,714.04 L139.00,713.94 L140.00,713.83 L141.00,713.72 L142.00,713.60 L143.00,713.48 L144.00,713.35 L145.00,713.21 L146.00,713.07 L147.00,712.94 L148.00,712.80 L149.00,712.66 L150.00,712.52 L151.00,712.38 L152.00,712.24 L153.00,712.12 L154.00,712.00 L155.02,711.88 L156.07,711.76 L157.12,711.65 L158.15,711.56 L159.12,711.50 L160.00,711.50 L160.81,711.53 L161.56,711.59 L162.26,711.69 L162.90,711.83 L163.48,712.03 L164.00,712.30 L164.44,712.64 L164.82,713.04 L165.13,713.50 L165.39,714.01 L165.61,714.58 L165.80,715.20 L165.94,715.95 L166.02,716.84 L166.06,717.78 L166.08,718.69 L166.08,719.46 L166.10,720.00" fill="none" stroke="#b8646e" stroke-width="8.4" stroke-linecap="round" stroke-linejoin="round"/>
<path d="M126.80,745.40 L126.44,745.05 L125.93,744.58 L125.33,744.01 L124.70,743.38 L124.10,742.70 L123.60,742.00 L123.18,741.27 L122.80,740.49 L122.46,739.66 L122.14,738.80 L121.86,737.91 L121.60,737.00 L121.38,736.06 L121.20,735.07 L121.04,734.06 L120.91,733.04 L120.80,732.01 L120.70,731.00 L120.61,730.00 L120.54,729.00 L120.48,728.00 L120.44,727.00 L120.41,726.00 L120.40,725.00 L120.39,723.97 L120.39,722.91 L120.40,721.84 L120.43,720.81 L120.50,719.86 L120.60,719.00 L120.73,718.24 L120.89,717.56 L121.07,716.94 L121.29,716.40 L121.57,715.92 L121.90,715.50 L122.29,715.17 L122.73,714.91 L123.22,714.73 L123.76,714.60 L124.35,714.49 L125.00,714.40 L125.71,714.34 L126.49,714.33 L127.32,714.34 L128.19,714.37 L129.09,714.40 L130.00,714.40 L130.94,714.38 L131.93,714.36 L132.94,714.34 L133.96,714.30 L134.99,714.26 L136.00,714.20 L137.00,714.13 L138.00,714.04 L139.00,713.94 L140.00,713.83 L141.00,713.72 L142.00,713.60 L143.00,713.48 L144.00,713.35 L145.00,713.21 L146.00,713.07 L147.00,712.94 L148.00,712.80 L149.00,712.66 L150.00,712.52 L151.00,712.38 L152.00,712.24 L153.00,712.12 L154.00,712.00 L155.02,711.88 L156.07,711.76 L157.12,711.65 L158.15,711.56 L159.12,711.50 L160.00,711.50 L160.81,711.53 L161.56,711.59 L162.26,711.69 L162.90,711.83 L163.48,712.03 L164.00,712.30 L164.44,712.64 L164.82,713.04 L165.13,713.50 L165.39,714.01 L165.61,714.58 L165.80,715.20 L165.94,715.95 L166.02,716.84 L166.06,717.78 L166.08,718.69 L166.08,719.46 L166.10,720.00" fill="none" stroke="#eba2a8" stroke-width="7.4" stroke-linecap="round" stroke-linejoin="round"/>
<circle cx="126.80" cy="745.40" r="4.5" fill="url(#bl)" stroke="#b86670" stroke-width="0.6"/>
<circle cx="123.65" cy="742.07" r="4.5" fill="url(#bl)" stroke="#b86670" stroke-width="0.6"/>
<circle cx="121.84" cy="737.85" r="4.5" fill="url(#bl)" stroke="#b86670" stroke-width="0.6"/>
<circle cx="120.95" cy="733.34" r="4.5" fill="url(#bl)" stroke="#b86670" stroke-width="0.6"/>
<circle cx="120.52" cy="728.77" r="4.5" fill="url(#bl)" stroke="#b86670" stroke-width="0.6"/>
<circle cx="120.39" cy="724.17" r="4.5" fill="url(#bl)" stroke="#b86670" stroke-width="0.6"/>
<circle cx="120.53" cy="719.57" r="4.5" fill="url(#bl)" stroke="#b86670" stroke-width="0.6"/>
<circle cx="122.08" cy="715.35" r="4.5" fill="url(#bl)" stroke="#b86670" stroke-width="0.6"/>
<circle cx="126.48" cy="714.33" r="4.5" fill="url(#bl)" stroke="#b86670" stroke-width="0.6"/>
<circle cx="131.07" cy="714.38" r="4.5" fill="url(#bl)" stroke="#b86670" stroke-width="0.6"/>
<circle cx="135.67" cy="714.22" r="4.5" fill="url(#bl)" stroke="#b86670" stroke-width="0.6"/>
<circle cx="140.25" cy="713.80" r="4.5" fill="url(#bl)" stroke="#b86670" stroke-width="0.6"/>
<circle cx="144.82" cy="713.24" r="4.5" fill="url(#bl)" stroke="#b86670" stroke-width="0.6"/>
<circle cx="149.37" cy="712.61" r="4.5" fill="url(#bl)" stroke="#b86670" stroke-width="0.6"/>
<circle cx="153.93" cy="712.01" r="4.5" fill="url(#bl)" stroke="#b86670" stroke-width="0.6"/>
<circle cx="158.51" cy="711.54" r="4.5" fill="url(#bl)" stroke="#b86670" stroke-width="0.6"/>
<circle cx="163.07" cy="711.89" r="4.5" fill="url(#bl)" stroke="#b86670" stroke-width="0.6"/>
<circle cx="165.82" cy="715.29" r="4.5" fill="url(#bl)" stroke="#b86670" stroke-width="0.6"/>
<circle cx="166.10" cy="719.87" r="4.5" fill="url(#bl)" stroke="#b86670" stroke-width="0.6"/>
<path d="M125.93,744.58 L125.33,744.01 L124.70,743.38 L124.10,742.70 L123.60,742.00 L123.18,741.27 L122.80,740.49 L122.46,739.66 L122.14,738.80 L121.86,737.91 L121.60,737.00 L121.38,736.06 L121.20,735.07 L121.04,734.06 L120.91,733.04 L120.80,732.01 L120.70,731.00 L120.61,730.00 L120.54,729.00 L120.48,728.00 L120.44,727.00 L120.41,726.00 L120.40,725.00 L120.39,723.97 L120.39,722.91 L120.40,721.84 L120.43,720.81 L120.50,719.86 L120.60,719.00 L120.73,718.24 L120.89,717.56 L121.07,716.94 L121.29,716.40 L121.57,715.92 L121.90,715.50 L122.29,715.17 L122.73,714.91 L123.22,714.73 L123.76,714.60 L124.35,714.49 L125.00,714.40 L125.71,714.34 L126.49,714.33 L127.32,714.34 L128.19,714.37 L129.09,714.40 L130.00,714.40 L130.94,714.38 L131.93,714.36 L132.94,714.34 L133.96,714.30 L134.99,714.26 L136.00,714.20 L137.00,714.13 L138.00,714.04 L139.00,713.94 L140.00,713.83 L141.00,713.72 L142.00,713.60 L143.00,713.48 L144.00,713.35 L145.00,713.21 L146.00,713.07 L147.00,712.94 L148.00,712.80 L149.00,712.66 L150.00,712.52 L151.00,712.38 L152.00,712.24 L153.00,712.12 L154.00,712.00 L155.02,711.88 L156.07,711.76 L157.12,711.65 L158.15,711.56 L159.12,711.50 L160.00,711.50 L160.81,711.53 L161.56,711.59 L162.26,711.69 L162.90,711.83 L163.48,712.03 L164.00,712.30 L164.44,712.64 L164.82,713.04 L165.13,713.50 L165.39,714.01 L165.61,714.58 L165.80,715.20 L165.94,715.95 L166.02,716.84 L166.06,717.78 L166.08,718.69 L166.08,719.46" fill="none" stroke="#b86a72" stroke-width="0.5" transform="translate(0.9,0.9)"/>
<path d="M166.10,723.20 L166.11,723.35 L166.12,723.51 L166.13,723.73 L166.14,724.02 L166.13,724.44 L166.10,725.00 L166.05,725.76 L166.00,726.69 L165.93,727.74 L165.84,728.84 L165.73,729.95 L165.60,731.00 L165.46,732.02 L165.31,733.06 L165.14,734.10 L164.94,735.12 L164.70,736.09 L164.40,737.00 L164.05,737.85 L163.65,738.67 L163.21,739.45 L162.73,740.17 L162.19,740.82 L161.60,741.40 L160.94,741.89 L160.21,742.31 L159.44,742.66 L158.63,742.95 L157.81,743.19 L157.00,743.40 L156.19,743.56 L155.36,743.66 L154.53,743.72 L153.68,743.74 L152.84,743.73 L152.00,743.70 L151.15,743.63 L150.29,743.52 L149.42,743.38 L148.58,743.23 L147.76,743.09 L147.00,743.00 L146.28,742.92 L145.60,742.83 L144.95,742.76 L144.33,742.73 L143.75,742.77 L143.20,742.90 L142.67,743.12 L142.17,743.43 L141.70,743.79 L141.27,744.22 L140.90,744.69 L140.60,745.20 L140.37,745.77 L140.21,746.41 L140.10,747.09 L140.04,747.80 L140.01,748.51 L140.00,749.20 L140.02,749.87 L140.08,750.54 L140.17,751.21 L140.30,751.88 L140.44,752.54 L140.60,753.20 L140.79,753.85 L141.01,754.51 L141.25,755.16 L141.50,755.80 L141.76,756.42 L142.00,757.00 L142.25,757.58 L142.52,758.17 L142.79,758.74 L143.04,759.25 L143.25,759.68 L143.40,760.00" fill="none" stroke="#9e1826" stroke-width="8.6" stroke-linecap="round" stroke-linejoin="round"/>
<path d="M166.10,723.20 L166.11,723.35 L166.12,723.51 L166.13,723.73 L166.14,724.02 L166.13,724.44 L166.10,725.00 L166.05,725.76 L166.00,726.69 L165.93,727.74 L165.84,728.84 L165.73,729.95 L165.60,731.00 L165.46,732.02 L165.31,733.06 L165.14,734.10 L164.94,735.12 L164.70,736.09 L164.40,737.00 L164.05,737.85 L163.65,738.67 L163.21,739.45 L162.73,740.17 L162.19,740.82 L161.60,741.40 L160.94,741.89 L160.21,742.31 L159.44,742.66 L158.63,742.95 L157.81,743.19 L157.00,743.40 L156.19,743.56 L155.36,743.66 L154.53,743.72 L153.68,743.74 L152.84,743.73 L152.00,743.70 L151.15,743.63 L150.29,743.52 L149.42,743.38 L148.58,743.23 L147.76,743.09 L147.00,743.00 L146.28,742.92 L145.60,742.83 L144.95,742.76 L144.33,742.73 L143.75,742.77 L143.20,742.90 L142.67,743.12 L142.17,743.43 L141.70,743.79 L141.27,744.22 L140.90,744.69 L140.60,745.20 L140.37,745.77 L140.21,746.41 L140.10,747.09 L140.04,747.80 L140.01,748.51 L140.00,749.20 L140.02,749.87 L140.08,750.54 L140.17,751.21 L140.30,751.88 L140.44,752.54 L140.60,753.20 L140.79,753.85 L141.01,754.51 L141.25,755.16 L141.50,755.80 L141.76,756.42 L142.00,757.00 L142.25,757.58 L142.52,758.17 L142.79,758.74 L143.04,759.25 L143.25,759.68 L143.40,760.00" fill="none" stroke="#cc2b3a" stroke-width="7.6" stroke-linecap="round" stroke-linejoin="round"/>
<circle cx="166.10" cy="723.20" r="4.6" fill="url(#bd)" stroke="#8e1522" stroke-width="0.6"/>
<circle cx="165.93" cy="727.59" r="4.6" fill="url(#bd)" stroke="#8e1522" stroke-width="0.6"/>
<circle cx="165.47" cy="731.97" r="4.6" fill="url(#bd)" stroke="#8e1522" stroke-width="0.6"/>
<circle cx="164.64" cy="736.28" r="4.6" fill="url(#bd)" stroke="#8e1522" stroke-width="0.6"/>
<circle cx="162.69" cy="740.21" r="4.6" fill="url(#bd)" stroke="#8e1522" stroke-width="0.6"/>
<circle cx="159.19" cy="742.75" r="4.6" fill="url(#bd)" stroke="#8e1522" stroke-width="0.6"/>
<circle cx="154.91" cy="743.69" r="4.6" fill="url(#bd)" stroke="#8e1522" stroke-width="0.6"/>
<circle cx="150.52" cy="743.55" r="4.6" fill="url(#bd)" stroke="#8e1522" stroke-width="0.6"/>
<circle cx="146.16" cy="742.91" r="4.6" fill="url(#bd)" stroke="#8e1522" stroke-width="0.6"/>
<circle cx="141.97" cy="743.58" r="4.6" fill="url(#bd)" stroke="#8e1522" stroke-width="0.6"/>
<circle cx="140.07" cy="747.39" r="4.6" fill="url(#bd)" stroke="#8e1522" stroke-width="0.6"/>
<circle cx="140.28" cy="751.77" r="4.6" fill="url(#bd)" stroke="#8e1522" stroke-width="0.6"/>
<circle cx="141.57" cy="755.96" r="4.6" fill="url(#bd)" stroke="#8e1522" stroke-width="0.6"/>
<circle cx="143.38" cy="759.97" r="4.6" fill="url(#bd)" stroke="#8e1522" stroke-width="0.6"/>
<path d="M166.11,723.35 L166.12,723.51 L166.13,723.73 L166.14,724.02 L166.13,724.44 L166.10,725.00 L166.05,725.76 L166.00,726.69 L165.93,727.74 L165.84,728.84 L165.73,729.95 L165.60,731.00 L165.46,732.02 L165.31,733.06 L165.14,734.10 L164.94,735.12 L164.70,736.09 L164.40,737.00 L164.05,737.85 L163.65,738.67 L163.21,739.45 L162.73,740.17 L162.19,740.82 L161.60,741.40 L160.94,741.89 L160.21,742.31 L159.44,742.66 L158.63,742.95 L157.81,743.19 L157.00,743.40 L156.19,743.56 L155.36,743.66 L154.53,743.72 L153.68,743.74 L152.84,743.73 L152.00,743.70 L151.15,743.63 L150.29,743.52 L149.42,743.38 L148.58,743.23 L147.76,743.09 L147.00,743.00 L146.28,742.92 L145.60,742.83 L144.95,742.76 L144.33,742.73 L143.75,742.77 L143.20,742.90 L142.67,743.12 L142.17,743.43 L141.70,743.79 L141.27,744.22 L140.90,744.69 L140.60,745.20 L140.37,745.77 L140.21,746.41 L140.10,747.09 L140.04,747.80 L140.01,748.51 L140.00,749.20 L140.02,749.87 L140.08,750.54 L140.17,751.21 L140.30,751.88 L140.44,752.54 L140.60,753.20 L140.79,753.85 L141.01,754.51 L141.25,755.16 L141.50,755.80 L141.76,756.42 L142.00,757.00 L142.25,757.58 L142.52,758.17 L142.79,758.74 L143.04,759.25" fill="none" stroke="#8a1420" stroke-width="0.5" transform="translate(-0.8,-0.6)"/>
<path d="M126.6,746.6 L128.6,749.2" stroke="#b06a72" stroke-width="0.9" stroke-linecap="round"/>
</g>
<rect x="1" y="1" width="518" height="1151" fill="none" stroke="#000" stroke-width="2"/>
</svg>
</body></html>
